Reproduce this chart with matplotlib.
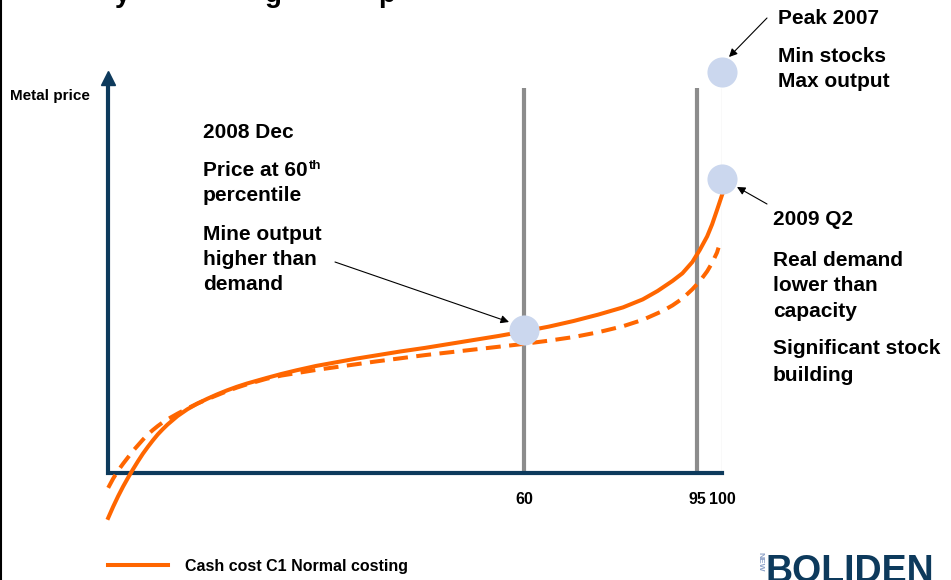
import matplotlib.pyplot as plt
from matplotlib.lines import Line2D

plt.rcParams['font.family'] = ['Liberation Sans', 'DejaVu Sans']
plt.rcParams['font.weight'] = 'bold'

W, H = 951, 580
ORANGE = '#ff6600'
NAVY = '#0d3a5c'
GREY = '#8c8c8c'
DOT = '#cbd7ee'

# cost curve, x = cumulative capacity percentile, y = cost (0..100 of axis height)
pct_c1 = [-24, -23, -22, -21, -20, -19, -18, -17, -16, -15, -14, -13, -12,
          -10, -8, -6, -4, -2, 0, 2, 4, 6, 8, 11, 14, 18, 22, 26, 30, 35, 40,
          45, 50, 55, 60, 65, 70, 75, 80, 84, 87, 90, 92, 94, 95.5, 97, 98,
          99, 100]
cost_c1 = [-11.2, -8.4, -5.8, -3.4, -1.2, 0.9, 2.9, 4.8, 6.5, 8.1, 9.6, 10.9,
           12.1, 14.2, 15.9, 17.3, 18.5, 19.6, 20.6, 21.5, 22.3, 23.0, 23.7,
           24.7, 25.6, 26.7, 27.6, 28.5, 29.3, 30.3, 31.2, 32.2, 33.2, 34.2,
           35.3, 36.5, 37.9, 39.5, 41.3, 43.3, 45.4, 47.9, 49.8, 52.6, 55.6,
           59.0, 62.0, 65.6, 69.3]

pct_dash = [-24, -23, -22, -21, -20, -19, -18, -17, -16, -15, -14, -13, -12,
            -10, -8, -6, -4, -2, 0, 2, 4, 6, 8, 11, 14, 18, 22, 26, 30, 35, 40,
            45, 50, 55, 60, 65, 70, 75, 80, 84, 88, 90, 92, 94, 95.5, 97, 98,
            99, 99.3]
cost_dash = [-3.7, -1.4, 0.6, 2.3, 3.9, 5.5, 6.9, 8.3, 9.6, 10.7, 11.7, 12.6,
             13.4, 14.8, 16.1, 17.3, 18.4, 19.4, 20.4, 21.3, 22.1, 22.8, 23.5,
             24.3, 24.9, 25.7, 26.4, 27.1, 27.8, 28.6, 29.4, 30.1, 30.8, 31.5,
             32.2, 33.0, 33.9, 35.1, 36.6, 38.2, 40.4, 41.8, 43.5, 45.8, 47.8,
             50.3, 52.4, 55.0, 56.2]

tick_pos = [60, 95, 100]
tick_labels = ['60', '95', '100']

# price points: 2008 Dec, 2009 Q2, Peak 2007
point_pct = [60, 100, 100]
point_cost = [35.6, 73.3, 100.0]

X0 = -24.04


def fx(px):
    return px / W


def fy(py):
    return 1 - py / H


fig = plt.figure(figsize=(W / 100, H / 100), dpi=100)
ax = fig.add_axes([fx(108), fy(473), 614 / W, 401 / H])
ax.set_xlim(X0, 100)
ax.set_ylim(0, 100)
for s in ax.spines.values():
    s.set_visible(False)
ax.set_yticks([])
ax.set_xticks(tick_pos)
ax.set_xticklabels(tick_labels, fontsize=11.5, fontweight='bold')
ax.tick_params(axis='x', length=0, pad=14)

# percentile markers
ax.vlines([60, 95], 0, 96, color=GREY, lw=3, zorder=1)
ax.vlines(100, 0, 96, color='#a0a0a0', lw=0.8, zorder=1)

# axes with arrow on price axis
ax.plot([X0, X0, 100], [97, 0, 0], color=NAVY, lw=3, solid_joinstyle='miter',
        clip_on=False, zorder=3)
ax.plot([X0], [98.5], marker='^', ms=9.5, color=NAVY, clip_on=False, zorder=3)

ax.plot(pct_c1, cost_c1, color=ORANGE, lw=2.9, clip_on=False, zorder=4)
ax.plot(pct_dash, cost_dash, color=ORANGE, lw=2.9, ls=(0, (3.7, 2.1)),
        clip_on=False, zorder=4)

ax.scatter(point_pct, point_cost, s=470, color=DOT, clip_on=False, zorder=6,
           linewidths=0)

# annotation arrows
arrow = dict(arrowstyle='-|>', color='black', lw=0.8, mutation_scale=12,
             shrinkA=0, shrinkB=0)
for tail, head in [((335, 262), (509, 322)), ((767, 18), (729, 57)),
                   ((767, 204), (737, 187))]:
    ax.annotate('', xy=(fx(head[0]), fy(head[1])), xycoords='figure fraction',
                xytext=(fx(tail[0]), fy(tail[1])), textcoords='figure fraction',
                arrowprops=arrow)


def label(px, py, s, size=15, **kw):
    return fig.text(fx(px), fy(py), s, fontsize=size, fontweight='bold',
                    va='baseline', ha='left', **kw)


label(10, 100, 'Metal price', size=11)

label(203, 138, '2008 Dec')
t60 = label(203, 176, 'Price at 60')
label(203, 201, 'percentile')
label(203, 240, 'Mine output')
label(203, 265, 'higher than')
label(203, 290, 'demand')

r = fig.canvas.get_renderer()
bb = t60.get_window_extent(renderer=r)
fig.text(bb.x1 / W + 0.001, fy(169), 'th', fontsize=9.5, fontweight='bold',
         va='baseline')

label(778, 24, 'Peak 2007')
label(778, 62, 'Min stocks')
label(778, 87, 'Max output')

label(773, 225, '2009 Q2')
label(773, 266, 'Real demand')
label(773, 291, 'lower than')
label(773, 317, 'capacity')
label(773, 354, 'Significant stock')
label(773, 381, 'building')

# legend
fig.add_artist(Line2D([fx(108), fx(168)], [fy(565), fy(565)], color=ORANGE,
                      lw=2.9))
label(185, 571, 'Cash cost C1 Normal costing', size=11.5)

# heading runs off the top edge
for px, ch in [(115, 'y'), (265, 'g'), (378, 'p')]:
    label(px, 2, ch, size=20)

# logo
label(765, 582, 'BOLIDEN', size=27, color=NAVY)
fig.text(fx(760), fy(562), 'NEW', fontsize=6, fontweight='bold', color='#8fa3c8',
         rotation=-90, ha='center', va='center')

# slide border
fig.add_artist(Line2D([fx(1), fx(1)], [0, 1], color='black', lw=1.5))

fig.savefig('out.png', dpi=100)
